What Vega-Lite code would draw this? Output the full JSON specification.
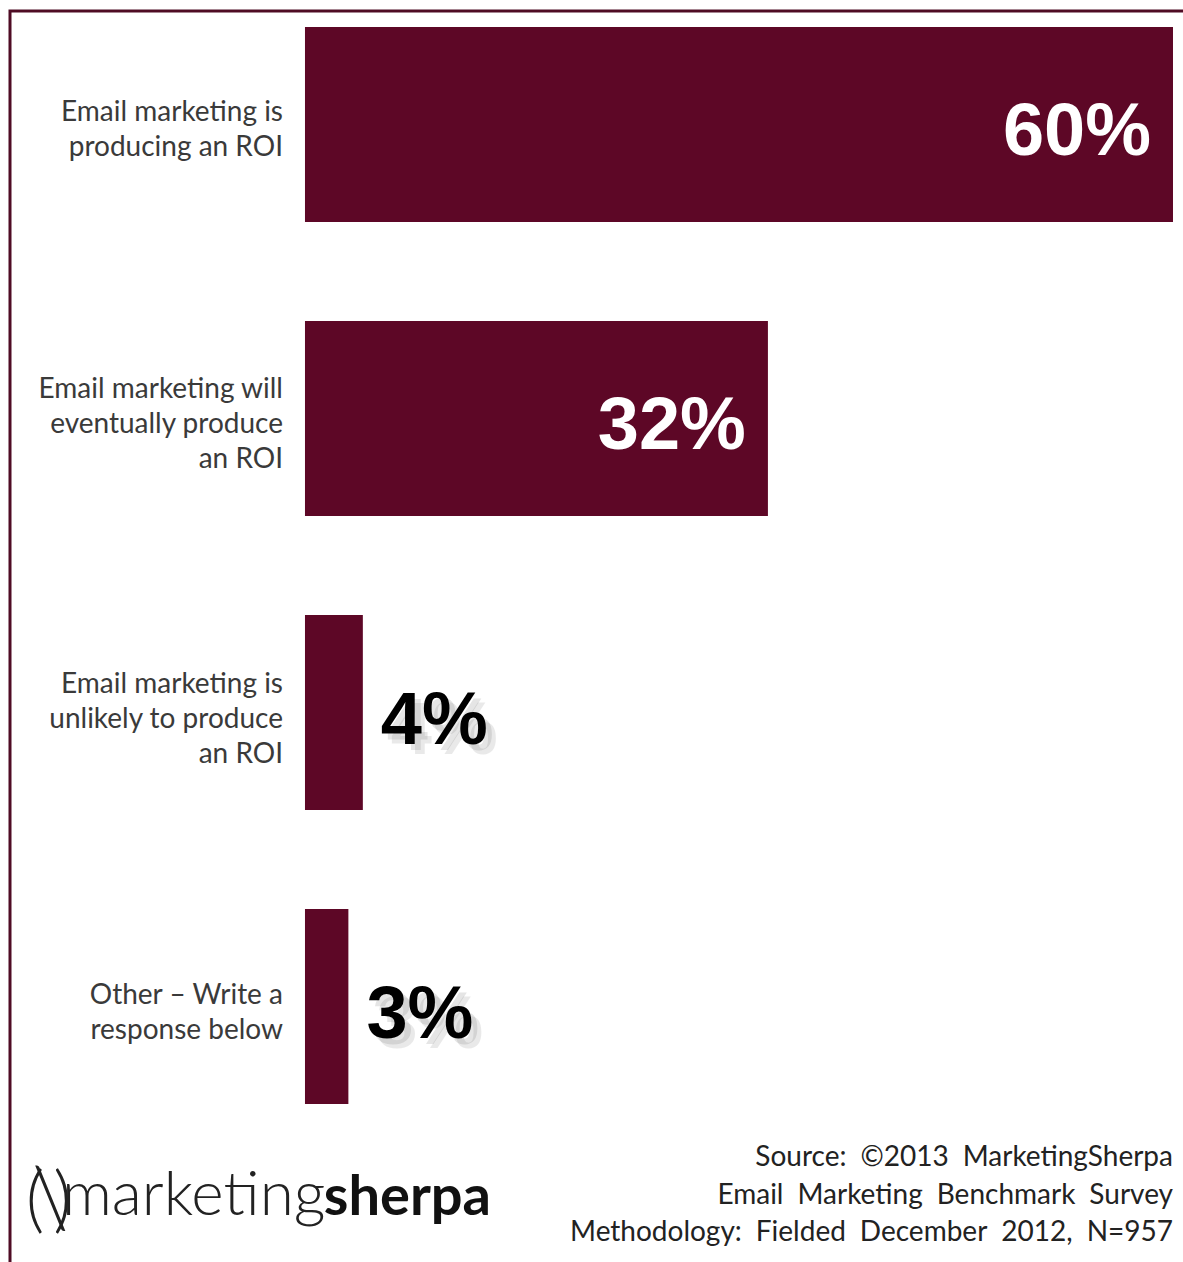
{
  "$schema": "https://vega.github.io/schema/vega-lite/v6.json",
  "autosize": {"type": "none"},
  "width": 1175,
  "height": 1253,
  "padding": {"left": 10, "top": 11, "right": 0, "bottom": 0},
  "background": "white",
  "config": {"view": {"stroke": "#4f0c24", "strokeWidth": 3}},
  "datasets": {
    "bars": [
      {"label": "Email marketing is\nproducing an ROI", "value": 60, "pct": "60%"},
      {"label": "Email marketing will\neventually produce\nan ROI", "value": 32, "pct": "32%"},
      {"label": "Email marketing is\nunlikely to produce\nan ROI", "value": 4, "pct": "4%"},
      {"label": "Other – Write a\nresponse below", "value": 3, "pct": "3%"}
    ],
    "footer": [
      {"line": "1", "kind": "src", "text": "Source:\u2002©2013\u2002MarketingSherpa"},
      {"line": "2", "kind": "src", "text": "Email\u2002Marketing\u2002Benchmark\u2002Survey"},
      {"line": "3", "kind": "src", "text": "Methodology:\u2002Fielded\u2002December\u20022012,\u2002N=957"},
      {"line": "2", "kind": "logo1", "text": "marketing"},
      {"line": "2", "kind": "logo2", "text": "sherpa"},
      {"line": "2", "kind": "ring", "text": "(\u2009)"},
      {"line": "2", "kind": "needle", "text": "\\"}
    ]
  },
  "layer": [
    {
      "data": {"name": "bars"},
      "encoding": {
        "y": {
          "field": "label",
          "type": "nominal",
          "sort": null,
          "axis": null,
          "scale": {"range": [0, 1109], "paddingInner": 0.3367, "paddingOuter": 0.0544}
        }
      },
      "layer": [
        {
          "mark": {"type": "bar", "color": "#5d0726"},
          "encoding": {
            "x": {"field": "value", "type": "quantitative", "axis": null, "scale": {"domain": [-20.39, 60.83], "zero": false, "nice": false}}
          }
        },
        {
          "transform": [{"filter": "length(split(datum.label, '\\n')) == 2"}],
          "mark": {"type": "text", "align": "right", "baseline": "middle", "dx": -22, "dy": -11, "lineBreak": "\n", "lineHeight": 35, "font": "Lato", "fontSize": 28, "color": "#3a3a3a"},
          "encoding": {
            "x": {"datum": 0, "type": "quantitative"},
            "text": {"field": "label"}
          }
        },
        {
          "transform": [{"filter": "length(split(datum.label, '\\n')) == 3"}],
          "mark": {"type": "text", "align": "right", "baseline": "middle", "dx": -22, "dy": -28, "lineBreak": "\n", "lineHeight": 35, "font": "Lato", "fontSize": 28, "color": "#3a3a3a"},
          "encoding": {
            "x": {"datum": 0, "type": "quantitative"},
            "text": {"field": "label"}
          }
        },
        {
          "transform": [{"filter": "datum.value > 10"}],
          "mark": {"type": "text", "align": "right", "baseline": "middle", "dx": -22, "dy": 9, "font": "Liberation Sans", "fontWeight": "bold", "fontSize": 74, "color": "white"},
          "encoding": {
            "x": {"field": "value", "type": "quantitative"},
            "text": {"field": "pct"}
          }
        },
        {
          "transform": [{"filter": "datum.value <= 10"}],
          "mark": {"type": "text", "align": "left", "baseline": "middle", "dx": 24, "dy": 15, "font": "Liberation Sans", "fontWeight": "bold", "fontSize": 74, "color": "#555555", "opacity": 0.15},
          "encoding": {
            "x": {"field": "value", "type": "quantitative"},
            "text": {"field": "pct"}
          }
        },
        {
          "transform": [{"filter": "datum.value <= 10"}],
          "mark": {"type": "text", "align": "left", "baseline": "middle", "dx": 28, "dy": 19, "font": "Liberation Sans", "fontWeight": "bold", "fontSize": 74, "color": "#555555", "opacity": 0.12},
          "encoding": {
            "x": {"field": "value", "type": "quantitative"},
            "text": {"field": "pct"}
          }
        },
        {
          "transform": [{"filter": "datum.value <= 10"}],
          "mark": {"type": "text", "align": "left", "baseline": "middle", "dx": 18, "dy": 9, "font": "Liberation Sans", "fontWeight": "bold", "fontSize": 74, "color": "black"},
          "encoding": {
            "x": {"field": "value", "type": "quantitative"},
            "text": {"field": "pct"}
          }
        }
      ]
    },
    {
      "data": {"name": "footer"},
      "encoding": {
        "y": {"field": "line", "type": "ordinal", "axis": null, "scale": {"type": "point", "domain": ["1", "2", "3"], "range": [1147, 1222], "padding": 0}}
      },
      "layer": [
        {
          "transform": [{"filter": "datum.kind == 'src'"}],
          "mark": {"type": "text", "align": "right", "baseline": "middle", "font": "Lato", "fontSize": 28, "color": "#222222"},
          "encoding": {"x": {"datum": 60, "type": "quantitative"}, "text": {"field": "text"}}
        },
        {
          "transform": [{"filter": "datum.kind == 'logo1'"}],
          "mark": {"type": "text", "align": "left", "baseline": "alphabetic", "dy": 19, "font": "Lato", "fontWeight": 300, "fontSize": 62, "color": "#222222"},
          "encoding": {"x": {"datum": -16.8, "type": "quantitative"}, "text": {"field": "text"}}
        },
        {
          "transform": [{"filter": "datum.kind == 'logo2'"}],
          "mark": {"type": "text", "align": "left", "baseline": "alphabetic", "dy": 19, "font": "Lato", "fontWeight": "bold", "fontSize": 56, "color": "#111111"},
          "encoding": {"x": {"datum": 1.3, "type": "quantitative"}, "text": {"field": "text"}}
        },
        {
          "transform": [{"filter": "datum.kind == 'ring'"}],
          "mark": {"type": "text", "align": "left", "baseline": "middle", "dy": 6, "font": "Lato", "fontWeight": 300, "fontSize": 72, "color": "#222222"},
          "encoding": {"x": {"datum": -19.3, "type": "quantitative"}, "text": {"field": "text"}}
        },
        {
          "transform": [{"filter": "datum.kind == 'needle'"}],
          "mark": {"type": "text", "align": "center", "baseline": "middle", "dy": 6, "font": "Lato", "fontWeight": 300, "fontSize": 84, "color": "#222222"},
          "encoding": {"x": {"datum": -17.6, "type": "quantitative"}, "text": {"field": "text"}}
        }
      ]
    }
  ],
  "resolve": {"scale": {"y": "independent"}}
}
